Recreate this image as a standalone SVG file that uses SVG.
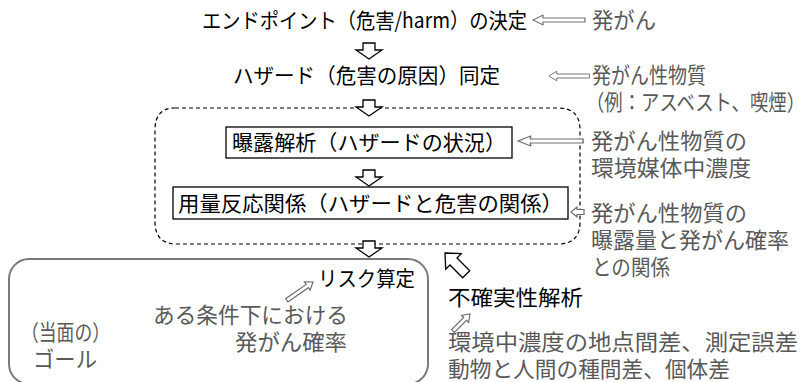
<svg xmlns="http://www.w3.org/2000/svg" width="807" height="382" viewBox="0 0 807 382">
<style>
.b{font-family:"Noto Sans CJK JP","Noto Sans",sans-serif;font-size:21px;fill:#000}
.g{font-family:"Noto Sans CJK JP","Noto Sans",sans-serif;font-size:22px;fill:#595959}
.box{fill:#fff;stroke:#000;stroke-width:1.3}
.darr{fill:#fff;stroke:#000;stroke-width:1.3;stroke-linejoin:miter}
.garr{fill:#fff;stroke:#6f6f6f;stroke-width:1.2}
</style>
<defs>
<path id="down" d="M-6,0 H6 V7 H13 L0,16 L-13,7 H-6 Z"/>
<path id="left" d="M0,0 L10,-6 V-2.5 H52 V2.5 H10 V6 Z"/>
</defs>
<rect width="807" height="382" fill="#fff"/>
<g id="dashed-group">
<path d="M175,108 H558 Q580,108 580,130 V222 Q580,244 558,244 H177 Q155,244 155,222 V130 Q155,108 175,108 Z" fill="none" stroke="#000" stroke-width="1.2" stroke-dasharray="4 3"/>
</g>
<g id="goal">
<rect x="9" y="259" width="419" height="125" rx="20" fill="none" stroke="#7a7a7a" stroke-width="2"/>
<text class="g" x="21" y="340" textLength="89" lengthAdjust="spacingAndGlyphs">（当面の）</text>
<text class="g" x="33" y="367" textLength="64" lengthAdjust="spacingAndGlyphs">ゴール</text>
</g>
<g id="connectors">
<use href="#down" class="darr" x="369" y="43"/>
<use href="#down" class="darr" x="369" y="100"/>
<use href="#down" class="darr" x="369" y="170"/>
<use href="#down" class="darr" x="369" y="241"/>
<g transform="translate(533,20) scale(1,0.8)"><use href="#left" class="garr"/></g>
<g transform="translate(549,76) scale(0.78,0.8)"><use href="#left" class="garr"/></g>
<g transform="translate(518,141) scale(1.25,0.8)"><use href="#left" class="garr"/></g>
<path class="garr" d="M571,212 L577,207 V209.5 H584 V214.5 H577 V217 Z"/>
<path class="darr" d="M0,0 L11,12 H5 V30 H-5 V12 H-11 Z" transform="translate(445,253) rotate(-45)"/>
<path class="garr" d="M0,0 L5,7 H2 V32 H-2 V7 H-5 Z" transform="translate(313,282) rotate(55)"/>
<path class="garr" d="M0,0 L5,7 H2 V24 H-2 V7 H-5 Z" transform="translate(470,314) rotate(45)"/>
</g>
<g id="endpoint"><text class="b" x="202" y="28" textLength="325" lengthAdjust="spacingAndGlyphs">エンドポイント（危害/harm）の決定</text></g>
<g id="endpoint-note"><text class="g" x="592" y="28" textLength="64" lengthAdjust="spacingAndGlyphs">発がん</text></g>
<g id="hazard"><text class="b" x="233" y="83" textLength="267" lengthAdjust="spacingAndGlyphs">ハザード（危害の原因）同定</text></g>
<g id="hazard-note"><text class="g" x="592" y="83" textLength="114" lengthAdjust="spacingAndGlyphs">発がん性物質</text><text class="g" x="586" y="110" textLength="219" lengthAdjust="spacingAndGlyphs">（例：アスベスト、喫煙）</text></g>
<g id="exposure"><rect class="box" x="226" y="127" width="286" height="31"/><text class="b" x="232" y="150" textLength="274" lengthAdjust="spacingAndGlyphs">曝露解析（ハザードの状況）</text></g>
<g id="exposure-note"><text class="g" x="591" y="149" textLength="156" lengthAdjust="spacingAndGlyphs">発がん性物質の</text><text class="g" x="591" y="176" textLength="160" lengthAdjust="spacingAndGlyphs">環境媒体中濃度</text></g>
<g id="dose"><rect class="box" x="173" y="187" width="395" height="32"/><text class="b" x="178" y="211" textLength="385" lengthAdjust="spacingAndGlyphs">用量反応関係（ハザードと危害の関係）</text></g>
<g id="dose-note"><text class="g" x="591" y="221" textLength="156" lengthAdjust="spacingAndGlyphs">発がん性物質の</text><text class="g" x="591" y="248" textLength="198" lengthAdjust="spacingAndGlyphs">曝露量と発がん確率</text><text class="g" x="592" y="275" textLength="78" lengthAdjust="spacingAndGlyphs">との関係</text></g>
<g id="risk"><text class="b" x="318" y="286" textLength="97" lengthAdjust="spacingAndGlyphs">リスク算定</text></g>
<g id="risk-note"><text class="g" x="153" y="323" textLength="195" lengthAdjust="spacingAndGlyphs">ある条件下における</text><text class="g" x="235" y="350" textLength="112" lengthAdjust="spacingAndGlyphs">発がん確率</text></g>
<g id="uncertainty"><text class="b" x="448" y="305" textLength="135" lengthAdjust="spacingAndGlyphs">不確実性解析</text></g>
<g id="uncertainty-note"><text class="g" x="448" y="350" textLength="350" lengthAdjust="spacingAndGlyphs">環境中濃度の地点間差、測定誤差</text><text class="g" x="448" y="377" textLength="282" lengthAdjust="spacingAndGlyphs">動物と人間の種間差、個体差</text></g>
</svg>
